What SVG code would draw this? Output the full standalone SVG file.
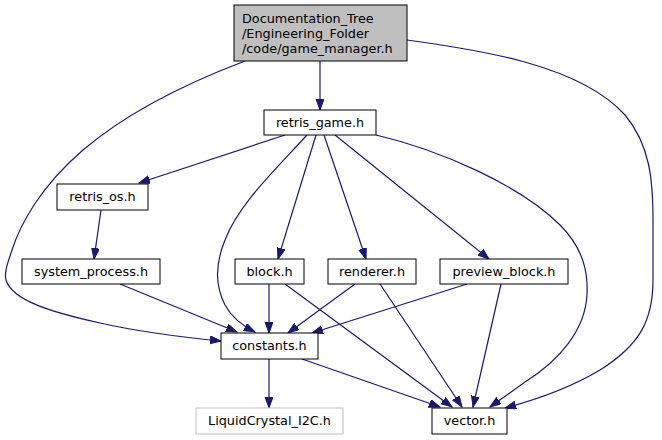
<svg xmlns="http://www.w3.org/2000/svg" width="662" height="440" viewBox="0 0 662 440">
<style>
.n rect{fill:#ffffff;stroke:#000000;stroke-width:1}
.n text{font-family:"DejaVu Sans",sans-serif;font-size:12.8px;fill:#000000;text-anchor:middle}
#n_gm rect{fill:#bfbfbf}
#n_gm text{text-anchor:start}
#n_lcd rect{stroke:#bfbfbf}
.e path{fill:none;stroke:#191970;stroke-width:1.2;marker-end:url(#ah)}
</style>
<defs>
<marker id="ah" markerUnits="userSpaceOnUse" markerWidth="12" markerHeight="9" refX="11" refY="4" orient="auto">
<path d="M0,0 L11,4 L0,8 z" fill="#191970" stroke="#191970" stroke-width="1"/>
</marker>
</defs>
<rect width="662" height="440" fill="#ffffff"/>
<g id="edges" class="e">
<path d="M320,61 L320,110"/>
<path d="M285,135 L139,183"/>
<path d="M316,135 L278,259"/>
<path d="M324,135 L366,259"/>
<path d="M335,135 L489,259"/>
<path d="M101,210 L94,259"/>
<path d="M120,284 L237,332"/>
<path d="M269,284 L269,333"/>
<path d="M285,284 L452,407"/>
<path d="M355,284 L288,333"/>
<path d="M380,284 L462,407"/>
<path d="M467,284 L312,333"/>
<path d="M501,284 L473,407"/>
<path d="M269,359 L269,408"/>
<path d="M302,359 L440,407"/>
<path d="M245,61 C195,80 130,110 83,150 C40,187 20,225 12,250 C8,262 4,272 6,280 C12,300 50,312 100,323 C140,332 180,337 221,341"/>
<path d="M407,40 C480,50 580,65 625,115 C650,145 653,180 653,220 L653,280 C653,320 640,345 600,370 C570,388 535,400 505,408"/>
<path d="M307,135 C275,170 238,205 225,240 C215,265 215,285 225,305 C232,318 245,327 255,332"/>
<path d="M376,135 C440,150 520,185 560,225 C585,250 588,275 587,295 C585,330 560,360 525,382 L490,407"/>
</g>
<g id="n_gm" class="n"><rect x="234" y="5" width="173" height="56"/><text x="242" y="23">Documentation_Tree</text><text x="242" y="38">/Engineering_Folder</text><text x="242" y="53">/code/game_manager.h</text></g>
<g id="n_rg" class="n"><rect x="264" y="110" width="112" height="25"/><text x="320" y="127">retris_game.h</text></g>
<g id="n_os" class="n"><rect x="57" y="184" width="91" height="26"/><text x="102.5" y="201">retris_os.h</text></g>
<g id="n_sp" class="n"><rect x="22" y="259" width="138" height="25"/><text x="91" y="276">system_process.h</text></g>
<g id="n_block" class="n"><rect x="235" y="259" width="69" height="25"/><text x="269.5" y="276">block.h</text></g>
<g id="n_renderer" class="n"><rect x="328" y="259" width="88" height="25"/><text x="372" y="276">renderer.h</text></g>
<g id="n_preview" class="n"><rect x="440" y="259" width="128" height="25"/><text x="504" y="276">preview_block.h</text></g>
<g id="n_const" class="n"><rect x="221" y="333" width="97" height="26"/><text x="269.5" y="350">constants.h</text></g>
<g id="n_lcd" class="n"><rect x="196" y="408" width="147" height="26"/><text x="269.5" y="425">LiquidCrystal_I2C.h</text></g>
<g id="n_vector" class="n"><rect x="432" y="408" width="75" height="26"/><text x="469.5" y="425">vector.h</text></g>
</svg>
